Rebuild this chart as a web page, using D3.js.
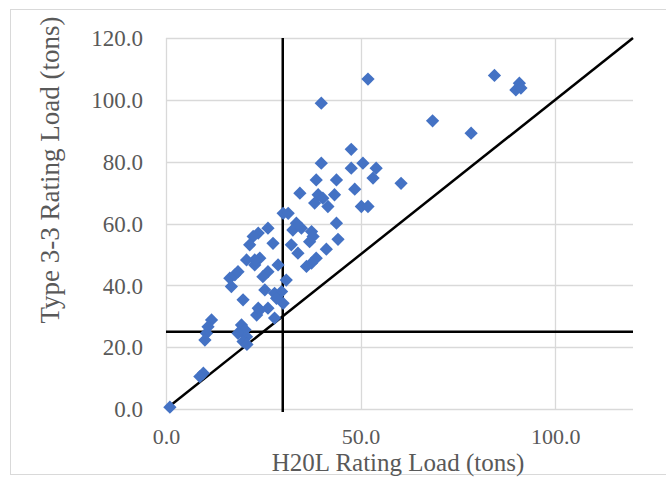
<!DOCTYPE html>
<html>
<head>
<meta charset="utf-8">
<script src="https://cdn.jsdelivr.net/npm/d3@7"></script>
<style>
  html, body { margin: 0; padding: 0; background: #fff; }
  svg { display: block; }
  .tick text, .lbl { font-family: "Liberation Serif", "Times New Roman", serif; fill: #595959; }
</style>
</head>
<body>
<div id="chart"></div>
<script>
// H20L rating load (x) vs Type 3-3 rating load (y), tons
var h20l = [1.0, 9.6, 8.7, 11.7, 10.8, 10.4, 10.0, 19.4, 20.3, 18.5, 20.7, 19.8, 20.8,
  19.8, 24.1, 26.2, 23.3, 27.9, 30.1, 26.2, 28.8, 30.9, 29.7, 25.4, 27.9, 16.4, 17.7,
  18.5, 16.8, 20.7, 24.1, 22.8, 27.5, 23.7, 26.2, 22.4, 21.5, 30.1, 31.4, 33.5, 32.6,
  34.8, 37.4, 37.8, 36.9, 43.8, 44.2, 41.2, 32.2, 33.9, 38.6, 37.4, 36.1, 34.4, 39.1,
  40.3, 43.3, 38.2, 41.6, 48.5, 50.2, 51.9, 38.6, 43.8, 39.9, 50.6, 47.6, 54.0, 53.2,
  47.6, 60.4, 39.9, 51.9, 68.5, 78.4, 84.4, 90.8, 89.9, 91.2, 24.9, 28.4, 23.7, 22.8];
var type33 = [0.6, 11.6, 10.5, 28.8, 26.6, 24.5, 22.3, 27.2, 25.6, 24.5, 23.4, 21.8, 20.9,
  35.3, 32.0, 32.6, 30.4, 29.4, 34.2, 44.4, 46.6, 41.7, 38.0, 38.5, 37.4, 42.3, 43.4,
  44.4, 39.6, 48.2, 48.8, 46.6, 53.6, 56.9, 58.5, 55.8, 53.1, 63.3, 63.3, 60.1, 57.9,
  58.5, 57.4, 55.8, 54.1, 60.1, 54.9, 51.7, 53.1, 50.4, 48.8, 47.2, 46.1, 69.8, 69.3,
  68.2, 69.3, 66.6, 65.5, 71.1, 65.5, 65.5, 74.1, 74.1, 79.5, 79.5, 77.9, 77.9, 74.7,
  84.0, 73.0, 98.9, 106.7, 93.2, 89.2, 107.9, 105.4, 103.2, 103.8, 42.8, 35.8, 32.6, 48.2];

var xTicks = [0, 50, 100];
var yTicks = [0, 20, 40, 60, 80, 100, 120];
var xLimit = 30;   // vertical reference line
var yLimit = 25;   // horizontal reference line
var equality = [[0, 0], [120, 120]];

var W = 666, H = 477;
var pLeft = 166, pRight = 633, pTop = 38, pBottom = 409;

var svg = d3.select("#chart").append("svg")
  .attr("width", W).attr("height", H);

// outer chart border
svg.append("rect")
  .attr("x", 10.5).attr("y", 9.5)
  .attr("width", 680).attr("height", 465)
  .attr("fill", "none").attr("stroke", "#d9d9d9");

var x = d3.scaleLinear().domain([0, 120]).range([pLeft, pRight]);
var y = d3.scaleLinear().domain([0, 120]).range([pBottom, pTop]);

// gridlines
svg.append("g").selectAll("line").data(yTicks).enter().append("line")
  .attr("x1", pLeft).attr("x2", pRight)
  .attr("y1", function(d) { return Math.round(y(d)) + 0.5; })
  .attr("y2", function(d) { return Math.round(y(d)) + 0.5; })
  .attr("stroke", "#d9d9d9").attr("stroke-width", 1.3);

svg.append("g").selectAll("line").data(xTicks).enter().append("line")
  .attr("y1", pTop).attr("y2", pBottom)
  .attr("x1", function(d) { return Math.round(x(d)) + 0.5; })
  .attr("x2", function(d) { return Math.round(x(d)) + 0.5; })
  .attr("stroke", "#d9d9d9").attr("stroke-width", 1.3);

// axes (labels only)
var yAxis = svg.append("g")
  .attr("transform", "translate(" + (pLeft - 23) + ",0)")
  .call(d3.axisLeft(y).tickValues(yTicks).tickSize(0).tickFormat(d3.format(".1f")));
yAxis.select(".domain").remove();
yAxis.selectAll("text").attr("x", 0).attr("font-size", "23px").attr("dy", "0.34em");

var xAxis = svg.append("g")
  .attr("transform", "translate(0,444)")
  .call(d3.axisBottom(x).tickValues(xTicks).tickSize(0).tickFormat(d3.format(".1f")));
xAxis.select(".domain").remove();
xAxis.selectAll("text").attr("y", 0).attr("dy", 0).attr("font-size", "22px");

// reference lines
svg.append("line")
  .attr("x1", x(xLimit)).attr("x2", x(xLimit))
  .attr("y1", pTop).attr("y2", pBottom + 3)
  .attr("stroke", "#000").attr("stroke-width", 2.5);

svg.append("line")
  .attr("x1", pLeft).attr("x2", pRight)
  .attr("y1", y(yLimit)).attr("y2", y(yLimit))
  .attr("stroke", "#000").attr("stroke-width", 2.5);

svg.append("path")
  .datum(equality)
  .attr("d", d3.line().x(function(d) { return x(d[0]); }).y(function(d) { return y(d[1]); }))
  .attr("stroke", "#000").attr("stroke-width", 2.5).attr("fill", "none");

// points
var sym = d3.symbol().type(d3.symbolSquare).size(88);
svg.append("g").selectAll("path").data(h20l).enter().append("path")
  .attr("d", sym)
  .attr("transform", function(d, i) {
    return "translate(" + x(d) + "," + y(type33[i]) + ") rotate(45)";
  })
  .attr("fill", "#4472c4");

// axis titles
svg.append("text").attr("class", "lbl")
  .attr("x", 398).attr("y", 471)
  .attr("text-anchor", "middle").attr("font-size", "25px")
  .text("H20L Rating Load (tons)");

svg.append("text").attr("class", "lbl")
  .attr("transform", "translate(59,170) rotate(-90)")
  .attr("text-anchor", "middle").attr("font-size", "27px")
  .text("Type 3-3 Rating Load (tons)");
</script>
</body>
</html>
